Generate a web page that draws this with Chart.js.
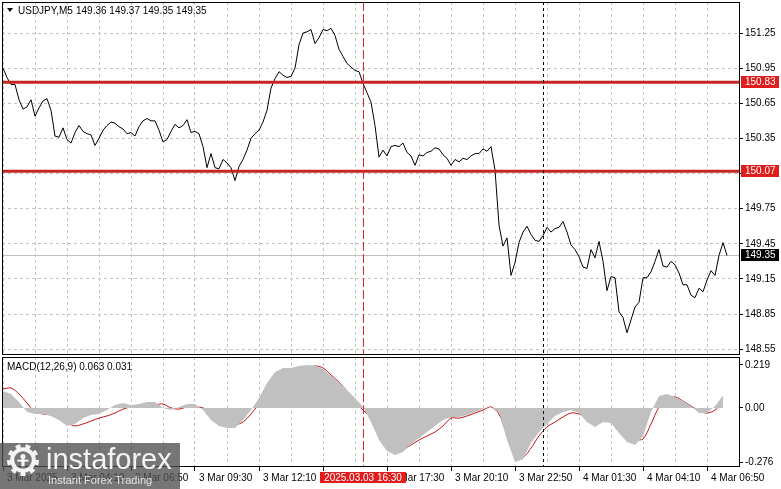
<!DOCTYPE html>
<html>
<head>
<meta charset="utf-8">
<title>USDJPY M5</title>
<script src="https://cdn.jsdelivr.net/npm/chart.js@4.4.1/dist/chart.umd.min.js"></script>
<style>
body { margin: 0; background: #fff; }
#wrap { position: relative; width: 781px; height: 489px; overflow: hidden; }
canvas { position: absolute; left: 0; }
#price_chart { top: 0; }
#macd_chart { top: 356px; }
</style>
</head>
<body>
<div id="wrap">
<canvas id="price_chart" width="781" height="356"></canvas>
<canvas id="macd_chart" width="781" height="133"></canvas>
</div>
<script>
// USDJPY M5, 3 Mar 01:30 -> 4 Mar 07:40

const symbolTitle = 'USDJPY,M5';
const ohlcText = '149.36 149.37 149.35 149.35';

// close, one value every 2 bars (10 min)
const price = [
  150.95, 150.87, 150.81, 150.81, 150.68, 150.60, 150.62, 150.68, 150.54, 150.61,
  150.67, 150.69, 150.59, 150.37, 150.36, 150.44, 150.34, 150.31, 150.40, 150.46,
  150.41, 150.39, 150.38, 150.29, 150.35, 150.42, 150.46, 150.49, 150.48, 150.45,
  150.43, 150.39, 150.40, 150.37, 150.45, 150.50, 150.52, 150.50, 150.50, 150.42,
  150.32, 150.34, 150.41, 150.47, 150.44, 150.46, 150.51, 150.40, 150.41, 150.39,
  150.28, 150.10, 150.22, 150.10, 150.09, 150.17, 150.14, 150.10, 149.99, 150.11,
  150.17, 150.25, 150.35, 150.39, 150.42, 150.49, 150.59, 150.78, 150.86, 150.92,
  150.89, 150.87, 150.88, 150.95, 151.15, 151.25, 151.26, 151.28, 151.16, 151.21,
  151.28, 151.27, 151.29, 151.23, 151.11, 151.05, 150.99, 150.96, 150.93, 150.92,
  150.82, 150.74, 150.66, 150.46, 150.19, 150.25, 150.20, 150.28, 150.29, 150.28,
  150.31, 150.23, 150.20, 150.12, 150.21, 150.20, 150.23, 150.24, 150.27, 150.26,
  150.21, 150.18, 150.12, 150.17, 150.15, 150.18, 150.17, 150.20, 150.22, 150.22,
  150.26, 150.24, 150.28, 150.08, 149.61, 149.43, 149.50, 149.18, 149.29, 149.46,
  149.55, 149.60, 149.53, 149.48, 149.47, 149.52, 149.59, 149.55, 149.58, 149.59,
  149.64, 149.55, 149.44, 149.40, 149.34, 149.25, 149.24, 149.40, 149.33, 149.47,
  149.30, 149.05, 149.17, 149.16, 148.87, 148.82, 148.69, 148.80, 148.91, 148.95,
  149.16, 149.16, 149.21, 149.30, 149.40, 149.26, 149.25, 149.30, 149.27, 149.20,
  149.10, 149.10, 149.01, 148.99, 149.07, 149.04, 149.14, 149.22, 149.18, 149.35,
  149.46, 149.35
];

// MACD(12,26,9), one value every 4 bars (20 min)
const macdMain = [
   0.086,  0.071,  0.030, -0.021, -0.031, -0.031, -0.041, -0.062, -0.092, -0.082,
  -0.052, -0.036, -0.031, -0.011,  0.015,  0.025,  0.015,  0.020,  0.030,  0.030,
   0.000, -0.011,  0.005,  0.020,  0.020, -0.011, -0.062, -0.092, -0.103, -0.103,
  -0.062, -0.011,  0.051,  0.127,  0.183,  0.204,  0.204,  0.214,  0.219,  0.216,
   0.199,  0.163,  0.132,  0.091,  0.051,  0.005, -0.072, -0.164, -0.220, -0.240,
  -0.225, -0.184, -0.154, -0.123, -0.092, -0.062, -0.046, -0.046, -0.036, -0.021,
  -0.006,  0.005, -0.021, -0.164, -0.276, -0.262, -0.179, -0.123, -0.082, -0.041,
  -0.021, -0.011, -0.026, -0.072, -0.097, -0.072, -0.077, -0.128, -0.174, -0.189,
  -0.143, -0.021,  0.061,  0.071,  0.056,  0.035,  0.010, -0.026, -0.026,  0.010,
   0.063
];
const macdSignal = [
   0.096,  0.102,  0.071,  0.025, -0.021, -0.031, -0.036, -0.057, -0.077, -0.092,
  -0.082, -0.067, -0.052, -0.041, -0.026, -0.006,  0.005,  0.005,  0.010,  0.015,
   0.020,  0.000, -0.006,  0.005,  0.005,  0.000, -0.026, -0.067, -0.082, -0.087,
  -0.072, -0.031,  0.020,  0.066,  0.122,  0.168,  0.188,  0.183,  0.199,  0.214,
   0.204,  0.168,  0.132,  0.086,  0.030, -0.011, -0.052, -0.118, -0.184, -0.225,
  -0.214, -0.189, -0.164, -0.143, -0.123, -0.092, -0.052, -0.052, -0.041, -0.026,
  -0.011,  0.005, -0.031, -0.138, -0.214, -0.250, -0.205, -0.143, -0.097, -0.072,
  -0.046, -0.026, -0.031, -0.052, -0.077, -0.067, -0.067, -0.087, -0.133, -0.159,
  -0.159, -0.082,  0.005,  0.051,  0.056,  0.035,  0.010, -0.016, -0.026, -0.011,
   0.031
];
const macdTitle = 'MACD(12,26,9) 0.063 0.031';

const priceTicks = [148.55, 148.85, 149.15, 149.45, 149.75, 150.05, 150.35, 150.65, 150.95, 151.25];
const macdTicks = [0.219, 0, -0.276];
const macdTickText = ['0.219', '0.00', '-0.276'];
const timeLabels = ['3 Mar 2025', '3 Mar 04:10', '3 Mar 06:50', '3 Mar 09:30', '3 Mar 12:10', '',
  '3 Mar 17:30', '3 Mar 20:10', '3 Mar 22:50', '4 Mar 01:30', '4 Mar 04:10', '4 Mar 06:50'];

const levels = [150.83, 150.07];
const lastPrice = 149.35;
const markBar = 180;              // 3 Mar 16:30
const markText = '2025.03.03 16:30';
const dayBar = 270;               // 4 Mar 00:00

const xMin = -0.5, xMax = 368.5;
const gridBars = [];
for (let b = 0; b <= 368; b += 16) gridBars.push(b);

const FONT = '"Liberation Sans", Arial, sans-serif';
Chart.defaults.font.family = FONT;
Chart.defaults.font.size = 10;
Chart.defaults.color = '#000';

function drawFrame(chart) {
  const {ctx, chartArea: ca} = chart;
  ctx.save();
  ctx.strokeStyle = '#000';
  ctx.lineWidth = 1;
  ctx.setLineDash([]);
  ctx.strokeRect(ca.left + 0.5, ca.top + 0.5, ca.right - ca.left - 1, ca.bottom - ca.top - 1);
  ctx.restore();
}

function drawMarkers(chart) {
  const {ctx, chartArea: ca, scales: {x}} = chart;
  ctx.save();
  ctx.lineWidth = 1;
  let px = Math.round(x.getPixelForValue(markBar)) + 0.5;
  ctx.strokeStyle = '#e8262b';
  ctx.setLineDash([9, 3]);
  ctx.beginPath(); ctx.moveTo(px, ca.top); ctx.lineTo(px, ca.bottom); ctx.stroke();
  px = Math.round(x.getPixelForValue(dayBar)) + 0.5;
  ctx.strokeStyle = '#000';
  ctx.setLineDash([3, 3]);
  ctx.beginPath(); ctx.moveTo(px, ca.top); ctx.lineTo(px, ca.bottom); ctx.stroke();
  ctx.restore();
}

function priceTag(ctx, y, text, bg) {
  ctx.fillStyle = bg;
  ctx.fillRect(741, Math.round(y) - 6, 38, 12);
  ctx.fillStyle = '#fff';
  ctx.textBaseline = 'middle';
  ctx.textAlign = 'left';
  ctx.fillText(text, 745, Math.round(y) + 0.5);
}

const priceDecor = {
  id: 'priceDecor',
  beforeDatasetsDraw(chart) {
    const {ctx, chartArea: ca, scales: {y}} = chart;
    const py = Math.round(y.getPixelForValue(lastPrice)) + 0.5;
    ctx.save();
    ctx.strokeStyle = '#c0c0c0';
    ctx.lineWidth = 1;
    ctx.beginPath(); ctx.moveTo(ca.left, py); ctx.lineTo(ca.right, py); ctx.stroke();
    ctx.restore();
  },
  afterDatasetsDraw(chart) {
    const {ctx, chartArea: ca, scales: {y}} = chart;
    ctx.save();
    ctx.strokeStyle = '#c82424';
    ctx.lineWidth = 3;
    levels.forEach(v => {
      const py = y.getPixelForValue(v);
      ctx.beginPath(); ctx.moveTo(ca.left, py); ctx.lineTo(ca.right, py); ctx.stroke();
    });
    ctx.restore();
    drawMarkers(chart);
  },
  afterDraw(chart) {
    const {ctx, scales: {y}} = chart;
    drawFrame(chart);
    ctx.save();
    ctx.font = '10px ' + FONT;
    levels.forEach(v => priceTag(ctx, y.getPixelForValue(v), v.toFixed(2), '#e01c1c'));
    priceTag(ctx, y.getPixelForValue(lastPrice), lastPrice.toFixed(2), '#000');
    // header
    ctx.fillStyle = '#000';
    ctx.beginPath(); ctx.moveTo(7, 8); ctx.lineTo(13, 8); ctx.lineTo(10, 12); ctx.closePath(); ctx.fill();
    ctx.textBaseline = 'middle';
    ctx.textAlign = 'left';
    ctx.fillText(symbolTitle, 18, 11);
    ctx.fillText(ohlcText, 76, 11);
    ctx.restore();
  }
};

function drawGear(ctx, cx, cy, r) {
  const teeth = 9;
  ctx.beginPath();
  for (let t = 0; t < teeth * 2; t++) {
    const a0 = t / (teeth * 2) * Math.PI * 2;
    const a1 = (t + 1) / (teeth * 2) * Math.PI * 2;
    ctx.arc(cx, cy, t % 2 === 0 ? r : r * 0.8, a0, a1);
  }
  ctx.closePath();
  ctx.moveTo(cx + r * 0.55, cy);
  ctx.arc(cx, cy, r * 0.55, 0, Math.PI * 2, true);
  ctx.fill('evenodd');
  // little figure inside
  ctx.beginPath(); ctx.arc(cx, cy - r * 0.22, r * 0.16, 0, Math.PI * 2); ctx.fill();
  ctx.fillRect(cx - r * 0.1, cy - r * 0.05, r * 0.2, r * 0.45);
  ctx.fillRect(cx - r * 0.35, cy - r * 0.02, r * 0.7, r * 0.12);
}

const macdDecor = {
  id: 'macdDecor',
  afterDatasetsDraw(chart) {
    drawMarkers(chart);
  },
  afterDraw(chart) {
    const {ctx, chartArea: ca, scales: {x}} = chart;
    drawFrame(chart);
    ctx.save();
    ctx.font = '10px ' + FONT;
    ctx.fillStyle = '#000';
    ctx.textBaseline = 'middle';
    ctx.textAlign = 'left';
    ctx.fillText(macdTitle, 7, 11);

    // highlighted time of the marker
    const px = x.getPixelForValue(markBar);
    const w = ctx.measureText(markText).width + 8;
    ctx.fillStyle = '#e01c1c';
    ctx.fillRect(Math.round(px - w / 2), ca.bottom + 5, Math.round(w), 11);
    ctx.fillStyle = '#fff';
    ctx.textAlign = 'center';
    ctx.fillText(markText, px, ca.bottom + 11);

    // watermark
    ctx.fillStyle = 'rgba(80,80,80,0.78)';
    ctx.fillRect(0, 87, 180, 46);
    ctx.fillStyle = 'rgba(255,255,255,0.92)';
    drawGear(ctx, 23, 104, 16);
    ctx.textAlign = 'left';
    ctx.textBaseline = 'alphabetic';
    ctx.font = '29px ' + FONT;
    ctx.fillText('instaforex', 46, 113);
    ctx.font = '11px ' + FONT;
    ctx.fillStyle = 'rgba(255,255,255,0.8)';
    ctx.fillText('Instant Forex Trading', 48, 128);
    ctx.restore();
  }
};

const priceChart = new Chart(document.getElementById('price_chart'), {
  type: 'line',
  data: {
    datasets: [{
      data: price.map((p, k) => ({x: k * 2, y: p})),
      borderColor: '#000',
      borderWidth: 1,
      pointRadius: 0,
      tension: 0
    }]
  },
  options: {
    responsive: false,
    animation: false,
    devicePixelRatio: 1,
    layout: {padding: {left: 2, top: 2, right: 0, bottom: 1}},
    plugins: {legend: {display: false}, tooltip: {enabled: false}},
    scales: {
      x: {
        type: 'linear', min: xMin, max: xMax,
        afterBuildTicks: s => { s.ticks = gridBars.map(v => ({value: v})); },
        ticks: {display: false},
        grid: {color: '#c4c4c4', drawTicks: false},
        border: {display: false, dash: [3, 3]},
        afterFit: s => { s.height = 0; s.paddingLeft = 0; s.paddingRight = 0; }
      },
      y: {
        position: 'right', min: 148.50, max: 151.515,
        afterBuildTicks: s => { s.ticks = priceTicks.map(v => ({value: v})); },
        ticks: {padding: 2, callback: v => v.toFixed(2)},
        grid: {color: '#c4c4c4', tickColor: '#000', tickLength: 3},
        border: {display: false, dash: [3, 3]},
        afterFit: s => { s.width = 41; s.paddingTop = 0; s.paddingBottom = 0; }
      }
    }
  },
  plugins: [priceDecor]
});

const macdChart = new Chart(document.getElementById('macd_chart'), {
  type: 'line',
  data: {
    datasets: [{
      data: macdMain.map((v, k) => ({x: k * 4, y: v})),
      fill: 'origin',
      backgroundColor: '#c0c0c0',
      borderColor: 'rgba(0,0,0,0)',
      borderWidth: 0,
      pointRadius: 0,
      tension: 0
    }, {
      data: macdSignal.map((v, k) => ({x: k * 4, y: v})),
      borderColor: '#c41818',
      borderWidth: 1,
      pointRadius: 0,
      tension: 0.3,
      fill: false
    }]
  },
  options: {
    responsive: false,
    animation: false,
    devicePixelRatio: 1,
    layout: {padding: {left: 2, top: 1, right: 0, bottom: 0}},
    plugins: {legend: {display: false}, tooltip: {enabled: false}},
    scales: {
      x: {
        type: 'linear', min: xMin, max: xMax,
        afterBuildTicks: s => { s.ticks = gridBars.map(v => ({value: v})); },
        ticks: {
          autoSkip: false, maxRotation: 0, minRotation: 0, align: 'start', labelOffset: 4, padding: 1,
          callback: (v, i) => (i % 2 === 0 ? (timeLabels[i / 2] || '') : '')
        },
        grid: {color: '#c4c4c4', tickLength: 4, tickColor: c => (c.index % 2 === 0 ? '#000' : 'rgba(0,0,0,0)')},
        border: {display: false, dash: [3, 3]},
        afterFit: s => { s.height = 22; s.paddingLeft = 0; s.paddingRight = 0; }
      },
      y: {
        position: 'right', min: -0.3015, max: 0.2598,
        afterBuildTicks: s => { s.ticks = macdTicks.map(v => ({value: v})); },
        ticks: {padding: 2, callback: (v, i) => macdTickText[i]},
        grid: {color: 'rgba(0,0,0,0)', tickColor: '#000', tickLength: 3},
        border: {display: false},
        afterFit: s => { s.width = 41; s.paddingTop = 0; s.paddingBottom = 0; }
      }
    }
  },
  plugins: [macdDecor]
});
</script>
</body>
</html>
